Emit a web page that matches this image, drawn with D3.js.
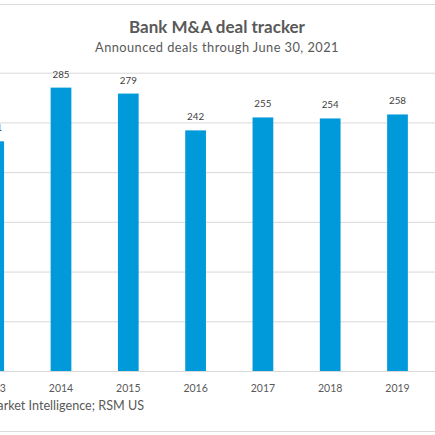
<!DOCTYPE html>
<html><head><meta charset="utf-8">
<script src="https://cdn.jsdelivr.net/npm/d3@7"></script>
<style>html,body{margin:0;padding:0;background:#fff;overflow:hidden}</style>
</head><body>
<svg id="c" width="435" height="435"></svg>
<script>
const years = ["2013","2014","2015","2016","2017","2018","2019"];
const deals = [231, 285, 279, 242, 255, 254, 258];
const yTicks = [0, 50, 100, 150, 200, 250, 300];
const titleText = "Bank M&A deal tracker";
const subtitleText = "Announced deals through June 30, 2021";
const sourceText = "Source: S&P Global Market Intelligence; RSM US";

const svg = d3.select("#c");
const font = "Lato, 'Open Sans', sans-serif";
const x = d3.scaleBand().domain(years).range([-39.95, 431.15]).paddingInner(0.692).paddingOuter(0.346);
const y = d3.scaleLinear().domain([0, 300]).range([371, 72.7]);

// chart border lines
svg.append("line").attr("x1",0).attr("x2",435).attr("y1",4.5).attr("y2",4.5).attr("stroke","#dcdcdc");
svg.append("line").attr("x1",0).attr("x2",435).attr("y1",431.5).attr("y2",431.5).attr("stroke","#dcdcdc");

// gridlines
const yAxis = d3.axisLeft(y).tickValues(yTicks).tickSize(-435).tickFormat("");
const g = svg.append("g").call(yAxis);
g.select(".domain").remove();
g.selectAll(".tick line").attr("stroke","#d9d9d9").attr("stroke-width",1);

// bars
svg.selectAll("rect.bar").data(years).enter().append("rect")
  .attr("class","bar")
  .attr("x", d => x(d))
  .attr("width", x.bandwidth())
  .attr("y", (d,i) => y(deals[i]))
  .attr("height", (d,i) => y(0) - y(deals[i]))
  .attr("fill", "#009ADB");

// data labels
svg.selectAll("text.lbl").data(years).enter().append("text")
  .attr("x", d => x(d) + x.bandwidth()/2)
  .attr("y", (d,i) => y(deals[i]) - 10)
  .attr("text-anchor","middle")
  .attr("font-family", font).attr("font-size", 9.8).attr("fill","#404040")
  .text((d,i) => deals[i]);

// x axis labels
const xAxis = d3.axisBottom(x).tickSize(0).tickPadding(0);
const xg = svg.append("g").attr("transform","translate(0,371)").call(xAxis);
xg.select(".domain").attr("stroke","#d9d9d9").attr("d","M0,0.5H435");
xg.selectAll(".tick text").attr("dy", null).attr("y", 20.5)
  .attr("font-family", font).attr("font-size", 10.5).attr("fill","#595959");

// title
svg.append("text").attr("x",217).attr("y",33).attr("text-anchor","middle")
  .attr("font-family", font).attr("font-weight","bold").attr("font-size",17).attr("fill","#595959")
  .text(titleText);
svg.append("text").attr("x",217).attr("y",52).attr("text-anchor","middle")
  .attr("font-family", font).attr("font-size",12.8).attr("fill","#595959")
  .attr("letter-spacing", 0.45)
  .text(subtitleText);

// source
svg.append("text").attr("x",144).attr("y",410).attr("text-anchor","end")
  .attr("font-family", font).attr("font-size",12.6).attr("fill","#595959")
  .text(sourceText);
</script>
</body></html>
